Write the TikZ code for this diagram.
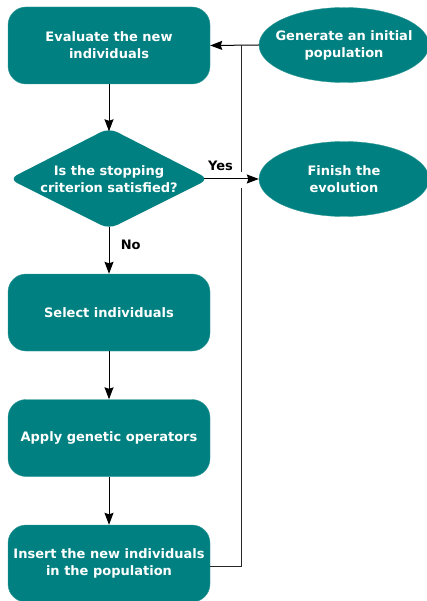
\documentclass[tikz,border=0pt]{standalone}
\usepackage{fontspec}
\setmainfont{DejaVu Sans}
\usetikzlibrary{shapes.geometric,arrows.meta}
\definecolor{tealbox}{HTML}{008080}
\begin{document}
\begin{tikzpicture}[x=1pt,y=1pt,
  every node/.style={font=\fontsize{13}{17}\selectfont\bfseries},
  stepbox/.style={rectangle, rounded corners=18pt, fill=tealbox, draw=tealbox!80!white,
    minimum width=202pt, minimum height=77pt, inner sep=0pt, text=white, align=center},
  oval/.style={ellipse, fill=tealbox, draw=tealbox!80!white, minimum width=170pt,
    minimum height=75pt, inner sep=-14pt, text=white, align=center},
  flow/.style={line width=1pt, -{Stealth[length=12pt,width=9pt,inset=1.5pt]}},
  wire/.style={line width=1pt, draw=black!85}]
\useasboundingbox (0,0) rectangle (427,-601);

% process boxes
\node[stepbox] (eval) at (109,-45.5) {Evaluate the new\\individuals};
\node[stepbox] (sel) at (109,-312.5) {Select individuals};
\node[stepbox] (app) at (109,-438) {Apply genetic operators};
\node[stepbox] (ins) at (109,-563.5) {Insert the new individuals\\in the population};

% decision diamond
\fill[tealbox, rounded corners=9pt] (109,-128) -- (209,-179) -- (109,-229) -- (9,-179) -- cycle;
\node[rectangle, minimum width=190pt, minimum height=95pt, inner sep=0pt, text=white, align=center]
  (dec) at (109,-179) {Is the stopping\\criterion satisfied?};

% terminals
\node[oval] (gen) at (344,-45) {Generate an initial\\population};
\node[oval] (fin) at (344,-179) {Finish the\\evolution};

% main flow
\draw[flow] (gen.west) -- (eval.east);
\draw[flow] (eval.south) -- (dec.north);
\draw[flow] (dec.east) -- node[above=4pt, text=black, pos=0.3] (yes) {Yes} (fin.west);
\draw[flow] (dec.south) -- node[right=8pt, text=black, pos=0.38] (no) {No} (sel.north);
\draw[flow] (sel.south) -- (app.north);
\draw[flow] (app.south) -- (ins.north);

% loop back to evaluation, hopping over the Yes line
\coordinate (jlow) at (241,-188);
\coordinate (jhigh) at (241,-172);
\draw[wire] ([yshift=-2.5pt]ins.east) -| (jlow);
\draw[wire] (jhigh) -- (jhigh |- gen.west);
\end{tikzpicture}
\end{document}
